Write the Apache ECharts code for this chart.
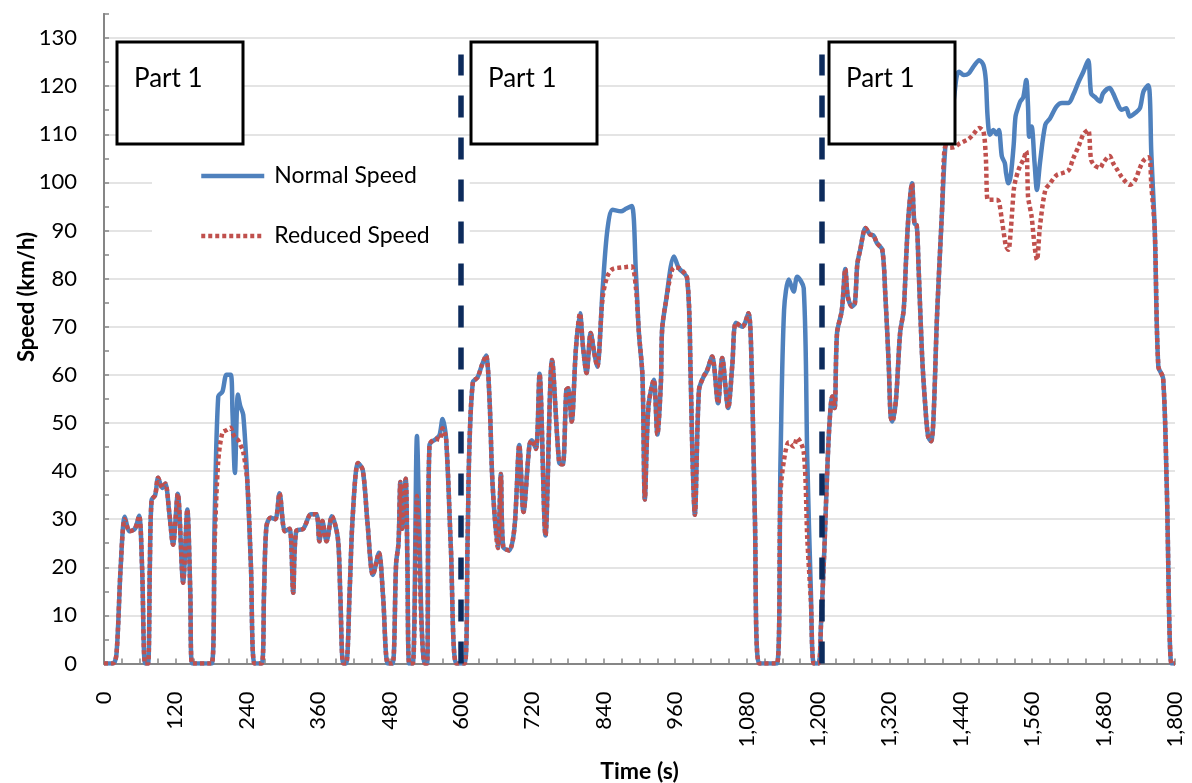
<!DOCTYPE html>
<html>
<head>
<meta charset="utf-8">
<script src="https://cdn.jsdelivr.net/npm/echarts@6/dist/echarts.min.js"></script>
<style>
  html, body { margin: 0; padding: 0; background: #fff; }
  #chart { width: 1192px; height: 783px; }
</style>
</head>
<body>
<div id="chart"></div>
<script>
// Drive cycle: time stamps (s) and vehicle speed (km/h) for both runs
const timeS = [
  0, 15, 21, 28, 35, 43, 52, 59, 64, 69, 74, 77, 80, 86, 91, 98, 103, 110, 116, 124,
  133, 140, 145, 148, 181, 186, 192, 199, 206, 213, 216, 220, 225, 229, 234, 241, 247, 253, 265, 269,
  273, 280, 288, 295, 304, 312, 318, 323, 335, 348, 357, 362, 367, 374, 383, 393, 397, 402, 407, 413,
  418, 427, 435, 443, 452, 462, 469, 477, 485, 491, 495, 498, 501, 507, 510, 513, 519, 526, 530, 534,
  539, 543, 547, 558, 564, 569, 575, 583, 592, 606,
  611, 614, 620, 628, 635, 642, 648, 653, 662, 667, 671, 681, 690, 698, 705, 715, 719, 726, 732, 742,
  753, 765, 771, 777, 780, 786, 793, 800, 805, 811, 818, 824, 829, 838, 846, 855, 869, 877, 887, 894,
  899, 905, 909, 915, 924, 930, 936, 938, 944, 958, 966, 980, 986, 989, 993, 1000, 1008, 1013, 1022, 1032,
  1039, 1049, 1056, 1062, 1073, 1083, 1088, 1094, 1101, 1131, 1137, 1143, 1151, 1159, 1165, 1176, 1182, 1188, 1193, 1201,
  1205, 1210, 1218, 1224, 1228, 1232, 1240, 1246, 1250, 1257, 1262, 1266, 1271, 1280, 1288, 1293, 1299, 1308, 1313, 1319,
  1322, 1325, 1331, 1338, 1344, 1348, 1352, 1358, 1362, 1366, 1369, 1375, 1380, 1385, 1390, 1394, 1400, 1408,
  1414, 1420, 1428, 1433, 1437, 1445, 1453, 1461, 1471, 1478, 1482, 1485, 1489, 1495, 1500, 1504, 1509, 1514, 1516, 1520,
  1524, 1529, 1532, 1537, 1540, 1545, 1550, 1553, 1555, 1559, 1564, 1568, 1573, 1582, 1590, 1601, 1610, 1621, 1629, 1638,
  1646, 1654, 1659, 1665, 1674, 1679, 1690, 1696, 1702, 1710, 1718, 1724, 1733, 1741, 1747, 1755, 1758, 1760, 1766,
  1772, 1780, 1786, 1794, 1800
];

const normalKmh = [
  0, 0, 2, 20, 30.5, 27.5, 28, 30.7, 20, 0, 0, 20, 34, 35, 38.6, 36.5, 37.4, 31, 24.7, 35.3,
  16.8, 32, 15, 0, 0, 30, 55.5, 56.5, 60, 60, 52, 39.6, 55.9, 53.5, 51.7, 37.6, 20, 0, 0, 15,
  28.5, 30.3, 30, 35.4, 27.5, 28, 14.7, 27.5, 28, 31, 31, 25.4, 29.6, 25.4, 30.6, 26.1, 15, 0, 0, 15.6,
  30.6, 41.7, 40.2, 29, 18.4, 23, 14, 0, 0, 20.9, 25, 37.7, 28, 38.4, 20, 0, 0, 47.3, 28, 7.6,
  0, 0, 45.4, 46.7, 47.5, 50.8, 46.7, 24, 0, 0,
  25, 44.6, 58.5, 59.5, 62, 64, 54.7, 37.4, 24, 39.4, 24.2, 23.5, 28.4, 45.4, 31.5, 45.4, 46.4, 44.6, 60.2, 26.6,
  63.1, 41.7, 41.4, 56.9, 57.2, 50.3, 65.2, 72.8, 65.9, 60.4, 68.7, 64.5, 61.7, 77.7, 90.1, 94.3, 94, 94.5, 95.1, 81.1,
  68.7, 59.7, 34.1, 53.4, 59, 47.6, 58.6, 69.4, 74.9, 84.6, 82.2, 80.1, 59.7, 43, 30.9, 56.9, 59.7, 60.7, 63.8, 54.1,
  63.5, 53.1, 62.1, 70.8, 70, 72.8, 63.8, 30, 0, 0, 42.4, 73.5, 79.8, 77.3, 80.4, 78, 42.4, 15, 0, 0,
  8, 21.6, 47, 55.5, 53.1, 68.7, 73.4, 82, 76.3, 74.2, 74.9, 82.9, 86, 90.5, 89.1, 89, 87.4, 86, 77, 61.7,
  51.4, 50.3, 54.8, 68.7, 73.5, 83.9, 92.9, 99.8, 91.5, 91, 82.5, 63.8, 54.1, 47.2, 46.2, 50.7, 72.1, 92.9,
  107.4, 112, 117, 122, 123, 122.3, 122.6, 124, 125.4, 124.4, 121.3, 113.7, 109.9, 110.9, 110, 110.9, 105.4, 104, 102, 99.8,
  101.5, 108, 113.7, 115.8, 116.8, 117.7, 121.3, 115.8, 109.5, 111.6, 104, 98.4, 104, 112, 113.3, 115.8, 116.5, 116.5, 118.2, 120.9,
  123, 125.4, 118.5, 117.8, 116.8, 118.5, 119.6, 118.5, 116.8, 115.1, 115.4, 113.7, 114.4, 115.4, 118.9, 120.2, 117.1, 106.7, 90,
  61.7, 59.3, 37.6, 0, 0
];

const reducedKmh = [
  0, 0, 2, 20, 30, 27.5, 28, 30.7, 20, 0, 0, 20, 34, 35, 38.6, 36.5, 37.4, 31, 24.7, 35.3,
  16.8, 32, 15, 0, 0, 25, 42, 48, 48.5, 49, 48, 47, 46.5, 45.5, 44, 37.6, 20, 0, 0, 15,
  28.5, 30.3, 30, 35.4, 27.5, 28, 14.7, 27.5, 28, 31, 31, 25.4, 29.6, 25.4, 30.6, 26.1, 15, 0, 0, 15.6,
  30.6, 41.7, 40.2, 29, 18.4, 23, 14, 0, 0, 20.9, 25, 37.7, 28, 38.4, 20, 0, 0, 34.8, 22, 7,
  0, 0, 45.4, 46.7, 46.5, 48.9, 46.7, 24, 0, 0,
  25, 44.6, 58.5, 59.5, 62, 64, 54.7, 37.4, 24, 39.4, 24.2, 23.5, 28.4, 45.4, 31.5, 45.4, 46.4, 44.6, 60.2, 26.6,
  63.1, 41.7, 41.4, 56.9, 57.2, 50.3, 65.2, 72.8, 65.9, 60.4, 68.7, 64.5, 61.7, 76, 80.5, 82, 82.3, 82.4, 82.5, 78,
  68.7, 59.7, 34.1, 53.4, 59, 47.6, 58.6, 69.4, 74.9, 82.3, 82.2, 80.1, 59.7, 43, 30.9, 56.9, 59.7, 60.7, 63.8, 54.1,
  63.5, 53.1, 62.1, 70.8, 70, 72.8, 63.8, 30, 0, 0, 35.4, 42.4, 46, 45.1, 46.9, 44, 26, 13, 0, 0,
  8, 21.6, 47, 55.5, 53.1, 68.7, 73.4, 82, 76.3, 74.2, 74.9, 82.9, 86, 90.5, 89.1, 89, 87.4, 86, 77, 61.7,
  51.4, 50.3, 54.8, 68.7, 73.5, 83.9, 92.9, 99.8, 91.5, 91, 82.5, 63.8, 54.1, 47.2, 46.2, 50.7, 72.1, 92.9,
  107.4, 107.2, 107.3, 107.6, 108, 108.5, 109, 110, 111.3, 110.6, 105.4, 96.4, 96.4, 96.4, 96.4, 96, 92.2, 88, 86.7, 86,
  90.1, 98.4, 100.5, 102.6, 103.5, 104.7, 106.5, 97, 95.5, 92.9, 86.7, 83.9, 90.8, 98.4, 99.8, 101.5, 101.9, 102.5, 105, 107.5,
  110, 110.9, 104.7, 103.5, 103, 104, 105.5, 104, 102.8, 101.2, 100, 99.5, 100.5, 103, 104.5, 105.2, 104.7, 99.8, 90,
  61.7, 59.3, 37.6, 0, 0
];

// Section boundaries (s) and the top of the dashed separators (km/h)
const partBoundaries = [600, 1207];
const boundaryTop = 126.6;
const partLabels = ['Part 1', 'Part 1', 'Part 1'];

const FONT = "Lato, 'Open Sans', sans-serif";
const AXIS_GRAY = '#868686';
const GRID_GRAY = '#e4e4e4';
const BLUE = '#4f81bd';
const RED = '#c0504d';
const LINE_W = 4.5;

const chart = echarts.init(document.getElementById('chart'), null, { renderer: 'canvas' });

const pairs = (ys) => timeS.map((t, i) => [t, ys[i]]);

// Label boxes drawn over the plot
const boxRects = [
  { x: 117, y: 42, w: 126, h: 102 },
  { x: 471, y: 42, w: 126, h: 102 },
  { x: 829, y: 42, w: 126, h: 102 }
];

const boxGraphics = [];
boxRects.forEach((b, i) => {
  boxGraphics.push({
    type: 'rect',
    z: 100,
    shape: { x: b.x, y: b.y, width: b.w, height: b.h },
    style: { fill: '#ffffff', stroke: '#000000', lineWidth: 3 }
  });
  boxGraphics.push({
    type: 'text',
    z: 101,
    x: b.x + 17,
    y: b.y + 37,
    style: {
      text: partLabels[i], fill: '#000', font: '26px ' + FONT,
      textAlign: 'left', textVerticalAlign: 'middle'
    }
  });
});

const option = {
  animation: false,
  backgroundColor: '#fff',
  grid: {
    left: 104, right: 17, top: 14, bottom: 119.5,
    containLabel: false,
    outerBoundsMode: 'none'
  },
  legend: {
    data: ['Normal Speed', 'Reduced Speed'],
    orient: 'vertical',
    left: 152,
    top: 150,
    padding: [14, 40, 14, 47],
    backgroundColor: '#fff',
    itemWidth: 63,
    itemHeight: 24,
    itemGap: 36,
    itemStyle: { opacity: 0 },
    lineStyle: { width: LINE_W },
    textStyle: { fontFamily: FONT, fontSize: 23, color: '#000', lineHeight: 24, padding: [0, 0, 0, 5] }
  },
  xAxis: {
    type: 'value',
    min: 0,
    max: 1800,
    interval: 120,
    name: 'Time (s)',
    nameLocation: 'middle',
    nameGap: 97,
    nameTextStyle: { fontFamily: FONT, fontSize: 23, fontWeight: 'bold', color: '#000' },
    axisLine: { show: true, lineStyle: { color: AXIS_GRAY, width: 2 } },
    axisTick: { show: true, inside: true, length: 5, lineStyle: { color: AXIS_GRAY, width: 1.5 } },
    minorTick: { show: true, splitNumber: 4, length: 5, lineStyle: { color: AXIS_GRAY, width: 1.5 } },
    axisLabel: {
      rotate: 90, margin: 28, fontFamily: FONT, fontSize: 22, color: '#000',
      formatter: (v) => v.toLocaleString('en-US')
    },
    splitLine: { show: false }
  },
  yAxis: [
    {
      type: 'value',
      min: 0,
      max: 135,
      interval: 10,
      axisLine: { show: true, lineStyle: { color: AXIS_GRAY, width: 2 } },
      axisTick: { show: false },
      axisLabel: { showMaxLabel: false, margin: 27, fontFamily: FONT, fontSize: 22, color: '#000' },
      splitLine: { show: true, showMaxLine: false, lineStyle: { color: GRID_GRAY, width: 2 } }
    },
    {
      // tick-only companion axis: a tick every 5 km/h on the same left edge
      type: 'value',
      position: 'left',
      min: 0,
      max: 135,
      interval: 5,
      axisLine: { show: true, lineStyle: { color: AXIS_GRAY, width: 2 } },
      axisTick: { show: true, inside: true, length: 5, lineStyle: { color: AXIS_GRAY, width: 1.5 } },
      axisLabel: { show: false },
      splitLine: { show: false }
    }
  ],
  graphic: [
    ...boxGraphics,
    {
      type: 'text',
      x: 27,
      y: 297,
      rotation: Math.PI / 2,
      z: 100,
      style: {
        text: 'Speed (km/h)', fill: '#000', font: 'bold 22px ' + FONT,
        textAlign: 'center', textVerticalAlign: 'middle'
      }
    }
  ],
  series: [
    {
      name: 'Normal Speed',
      type: 'line',
      data: pairs(normalKmh),
      symbol: 'none',
      smooth: 0.3,
      z: 2,
      color: BLUE,
      lineStyle: { color: BLUE, width: LINE_W }
    },
    {
      name: 'Reduced Speed',
      type: 'line',
      data: pairs(reducedKmh),
      symbol: 'none',
      smooth: 0.3,
      z: 3,
      color: RED,
      lineStyle: { color: RED, width: LINE_W, type: [4, 3] }
    },
    {
      name: 'Boundaries',
      type: 'line',
      data: [],
      z: 6,
      markLine: {
        silent: true,
        symbol: 'none',
        label: { show: false },
        lineStyle: { color: '#0d2b5c', width: 5.5, type: [22, 20] },
        data: partBoundaries.map((t) => [{ coord: [t, 0] }, { coord: [t, boundaryTop] }])
      }
    }
  ]
};

chart.setOption(option);
</script>
</body>
</html>
